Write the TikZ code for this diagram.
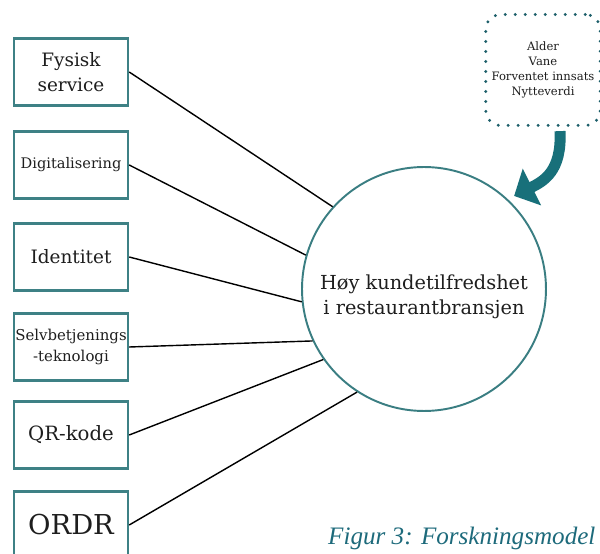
\documentclass[tikz,border=0pt]{standalone}
\usepackage{fontspec}
\setmainfont{DejaVu Serif}
\newfontfamily\capfont{Liberation Serif}
\usetikzlibrary{arrows.meta}
\definecolor{ink}{HTML}{1E1E1E}
\definecolor{boxteal}{HTML}{3E8185}
\definecolor{ringteal}{HTML}{3A7E82}
\definecolor{dotteal}{HTML}{1D5F6A}
\definecolor{arrowteal}{HTML}{18707A}
\definecolor{capteal}{HTML}{1D6A7B}

\begin{document}
\begin{tikzpicture}[x=0.02cm,y=-0.02cm,
  factorbox/.style={draw=boxteal, line width=1.4pt, minimum width=2.28cm, minimum height=1.34cm,
    inner sep=0pt, align=center, text=ink},
  link/.style={draw=black, line width=0.8pt},
  modbox/.style={draw=dotteal, line width=0.065cm, dash pattern=on 0pt off 0.2cm, line cap=round,
    rounded corners=0.3cm, minimum width=2.2cm, minimum height=2.22cm, align=center, text=ink,
    font=\fontsize{6.6}{8.6}\selectfont},
  bendarrow/.style={draw=arrowteal, line width=0.22cm, -{Triangle[width=0.8cm, length=0.4cm]}}]
\useasboundingbox (0,0) rectangle (600,554);

% factors
\node[factorbox, font=\fontsize{10.5}{14}\selectfont] (fys) at (71,72) {Fysisk\\service};
\node[factorbox, font=\fontsize{8.3}{10}\selectfont] (dig) at (71,165) {Digitalisering};
\node[factorbox, font=\fontsize{10.5}{14}\selectfont] (ide) at (71,257) {Identitet};
\node[factorbox, font=\fontsize{8.5}{12}\selectfont] (sel) at (71,347) {Selvbetjenings\\-teknologi};
\node[factorbox, font=\fontsize{11.2}{14}\selectfont] (qrk) at (71,435) {QR-kode};
\node[factorbox, font=\fontsize{15.6}{18}\selectfont] (ord) at (71,525) {ORDR};

% outcome
\node[circle, draw=ringteal, line width=1.1pt, minimum size=4.88cm, align=center, text=ink,
  font=\fontsize{11}{14.5}\selectfont] (sat) at (424,289)
  {\rule{0pt}{17pt}Høy kundetilfredshet\\i restaurantbransjen};

\draw[link] (fys.east) -- (sat.138);
\draw[link] (dig.east) -- (sat.164);
\draw[link] (ide.east) -- (sat.186);
\draw[link] (sel.east) -- (sat.205);
\draw[link] (qrk.east) -- (sat.215);
\draw[link] (ord.east) -- (sat.237);

% moderators
\node[modbox] (mod) at (543,70) {Alder\\Vane\\Forventet innsats\\Nytteverdi};
\draw[bendarrow, shorten >=0.14cm] ([xshift=0.34cm, yshift=-0.08cm]mod.south)
  .. controls +(2,40) and +(36,-18) .. (sat.47);

\node[anchor=west, text=capteal, font=\capfont\itshape\fontsize{14.3}{17}\selectfont] (cap) at (322,538)
  {Figur 3: Forskningsmodel};
\end{tikzpicture}
\end{document}
